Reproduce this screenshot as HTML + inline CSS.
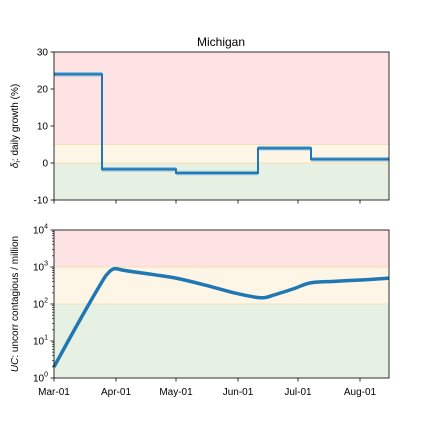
<!DOCTYPE html>
<html><head><meta charset="utf-8"><style>
body{margin:0;background:#fff;font-family:"Liberation Sans",sans-serif;}
svg text{font-family:"Liberation Sans",sans-serif;font-size:10px;fill:#000;}
</style></head><body>
<svg id="c" width="432" height="432"></svg>
<script>
const stepDays=[0,24,61,102,128.5,167.5];
const stepVals=[24,-1.7,-2.7,4,1];
const ucDays=[0,12,24,27,29,31,34,40,50,61,75,90,100,105,110,120,128,140,155,167.5];
const ucVals=[2,30,400,680,850,900,830,740,620,500,330,200,155,148,175,260,370,410,450,500];
const xTickDays=[0,31,61,92,122,153];
const xTickLabels=["Mar-01","Apr-01","May-01","Jun-01","Jul-01","Aug-01"];
const topTicks=[-10,0,10,20,30];
const botTicks=[0,1,2,3,4];
const NS="http://www.w3.org/2000/svg";
const svg=document.getElementById('c');
const L=54,R=389;
const x=d=>L+(R-L)*d/167.5;
const yT=v=>200-(v+10)*148/40;
const yB=v=>378-Math.log10(v)*37;
function el(t,a,p){const e=document.createElementNS(NS,t);for(const k in a)e.setAttribute(k,a[k]);(p||svg).appendChild(e);return e;}
function txt(s,a){const e=el('text',a);e.textContent=s;return e;}
let e;
e=el('rect',{x:L,y:52,width:R-L,height:yT(5)-52,fill:'#fde3e3'});
e=el('rect',{x:L,y:yT(5),width:R-L,height:yT(0)-yT(5),fill:'#fdf5e6'});
e=el('rect',{x:L,y:yT(0),width:R-L,height:200-yT(0),fill:'#e6f0e3'});
el('line',{x1:L,x2:R,y1:yT(5),y2:yT(5),stroke:'#f5d9a8','stroke-width':0.8});
el('line',{x1:L,x2:R,y1:yT(0),y2:yT(0),stroke:'#f5d9a8','stroke-width':0.8});
e=el('rect',{x:L,y:230,width:R-L,height:yB(1000)-230,fill:'#fde3e3'});
e=el('rect',{x:L,y:yB(1000),width:R-L,height:yB(100)-yB(1000),fill:'#fdf5e6'});
e=el('rect',{x:L,y:yB(100),width:R-L,height:378-yB(100),fill:'#e6f0e3'});
el('line',{x1:L,x2:R,y1:yB(1000),y2:yB(1000),stroke:'#f5d9a8','stroke-width':0.8});
el('line',{x1:L,x2:R,y1:yB(100),y2:yB(100),stroke:'#f5d9a8','stroke-width':0.8});
let d='';
stepVals.forEach((v,i)=>{d+=(i?'L':'M')+x(stepDays[i])+','+yT(v)+'L'+x(stepDays[i+1])+','+yT(v);});
stepVals.forEach((v,i)=>{el('rect',{x:x(stepDays[i]),y:yT(v+0.6),width:x(stepDays[i+1])-x(stepDays[i]),height:yT(v-0.6)-yT(v+0.6),fill:'#8fbcdc'});});
e=el('path',{d:d,fill:'none',stroke:'#1f77b4','stroke-width':2});


let pts=ucDays.map((dd,i)=>[x(dd),yB(ucVals[i])]);
let p='M'+pts[0];
for(let i=1;i<pts.length;i++){const p0=pts[Math.max(0,i-2)],p1=pts[i-1],p2=pts[i],p3=pts[Math.min(pts.length-1,i+1)];
p+=`C${p1[0]+(p2[0]-p0[0])/6},${p1[1]+(p2[1]-p0[1])/6} ${p2[0]-(p3[0]-p1[0])/6},${p2[1]-(p3[1]-p1[1])/6} ${p2[0]},${p2[1]}`;}
e=el('path',{d:p,fill:'none',stroke:'#1f77b4','stroke-width':3.5,'stroke-linejoin':'round'});


el('rect',{x:L,y:52,width:R-L,height:148,fill:'none',stroke:'#000','stroke-width':0.8});
el('rect',{x:L,y:230,width:R-L,height:148,fill:'none',stroke:'#000','stroke-width':0.8});
xTickDays.forEach((dd,i)=>{
 el('line',{x1:x(dd),x2:x(dd),y1:200,y2:203.5,stroke:'#000','stroke-width':0.8});
 el('line',{x1:x(dd),x2:x(dd),y1:378,y2:381.5,stroke:'#000','stroke-width':0.8});
 const t=txt(xTickLabels[i],{x:x(dd),y:395,'text-anchor':'middle'});
 
 
});
topTicks.forEach(v=>{
 el('line',{x1:L-3.5,x2:L,y1:yT(v),y2:yT(v),stroke:'#000','stroke-width':0.8});
 const t=txt(String(v),{x:L-6,y:yT(v)+3.5,'text-anchor':'end'});
 
 
});
botTicks.forEach(k=>{
 const yy=yB(Math.pow(10,k));
 el('line',{x1:L-3.5,x2:L,y1:yy,y2:yy,stroke:'#000','stroke-width':0.8});
 for(let m=2;m<10&&k<4;m++){const ym=yB(m*Math.pow(10,k));el('line',{x1:L-2,x2:L,y1:ym,y2:ym,stroke:'#000','stroke-width':0.6});}
 const t=el('text',{x:L-6,y:yy+3.5,'text-anchor':'end'});
 t.innerHTML='10<tspan dy="-5" style="font-size:7px">'+k+'</tspan>';
 
 
});
</script>
<div style="position:absolute;left:0;top:0;width:432px;height:432px;pointer-events:none">
<svg width="432" height="432">
<text x="221" y="46" text-anchor="middle" style="font-size:12px">Michigan</text>
<text transform="translate(18,126) rotate(-90)" text-anchor="middle"><tspan font-style="italic">δ</tspan><tspan dy="2" style="font-size:7px">i</tspan><tspan dy="-2">: daily growth (%)</tspan></text>
<text transform="translate(18,304) rotate(-90)" text-anchor="middle"><tspan font-style="italic">UC</tspan>: uncorr contagious / million</text>
</svg></div>
</body></html>
